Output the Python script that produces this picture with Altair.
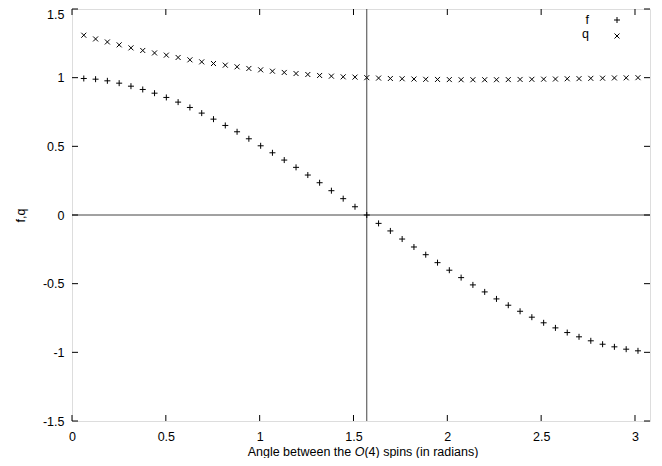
import altair as alt
import pandas as pd

# ---- data ----
angle = [0.0628, 0.1257, 0.1885, 0.2513, 0.3142, 0.3770, 0.4398, 0.5027, 0.5655, 0.6283,
         0.6912, 0.7540, 0.8168, 0.8796, 0.9425, 1.0053, 1.0681, 1.1310, 1.1938, 1.2566,
         1.3195, 1.3823, 1.4451, 1.5080, 1.5708, 1.6336, 1.6965, 1.7593, 1.8221, 1.8850,
         1.9478, 2.0106, 2.0735, 2.1363, 2.1991, 2.2619, 2.3248, 2.3876, 2.4504, 2.5133,
         2.5761, 2.6389, 2.7018, 2.7646, 2.8274, 2.8903, 2.9531, 3.0159]
f_vals = [0.994, 0.989, 0.977, 0.960, 0.938, 0.914, 0.887, 0.856, 0.822, 0.783,
          0.742, 0.698, 0.652, 0.606, 0.555, 0.504, 0.453, 0.400, 0.347, 0.291,
          0.235, 0.177, 0.119, 0.060, 0.000, -0.061, -0.116, -0.175, -0.233, -0.289,
          -0.347, -0.402, -0.456, -0.509, -0.560, -0.611, -0.657, -0.701, -0.744, -0.785,
          -0.822, -0.856, -0.887, -0.916, -0.941, -0.960, -0.977, -0.989]
q_vals = [1.309, 1.282, 1.260, 1.239, 1.217, 1.198, 1.180, 1.164, 1.147, 1.130,
          1.115, 1.103, 1.091, 1.079, 1.067, 1.057, 1.047, 1.038, 1.030, 1.023,
          1.016, 1.011, 1.006, 1.004, 1.000, 0.997, 0.994, 0.992, 0.990, 0.988,
          0.987, 0.986, 0.985, 0.985, 0.985, 0.985, 0.986, 0.987, 0.988, 0.989,
          0.990, 0.992, 0.993, 0.995, 0.996, 0.998, 0.999, 1.000]
x_ticks = [0, 0.5, 1, 1.5, 2, 2.5, 3]
y_ticks = [-1.5, -1, -0.5, 0, 0.5, 1, 1.5]
x_domain = [0, 3.08]
y_domain = [-1.5, 1.5]
vline_x = [1.5708]
hline_y = [0]
series_names = ["f", "q"]
x_title_parts = ["Angle between the", "O", "(4) spins (in radians)"]
y_title = "f,q"

# ---- style ----
W, H = 578, 412
FONT = "Liberation Sans"
FS = 12.5
PLUS = "M-1,0L1,0M0,-1L0,1"
CROSS = "M-1,-1L1,1M-1,1L1,-1"
PSIZE, XSIZE = 36, 25

df = pd.DataFrame({"angle": angle, "f": f_vals, "q": q_vals})
xs = alt.Scale(domain=x_domain, nice=False, zero=False)
ys = alt.Scale(domain=y_domain, nice=False, zero=False)

xaxis = alt.Axis(values=x_ticks, ticks=False, domain=False, grid=False,
                 labelPadding=9, labelFontSize=FS, labelFont=FONT, labelColor="black",
                 labelExpr="'' + datum.value", labelFlush=False, title=None)
yaxis = alt.Axis(values=y_ticks, ticks=False, domain=False, grid=False,
                 labelPadding=8, labelFontSize=FS, labelFont=FONT, labelColor="black",
                 labelExpr="'' + datum.value", labelFlush=False,
                 labelOffset={"condition": {"test": "datum.value == 1.5", "value": 5}, "value": 0},
                 title=y_title, titleFont=FONT, titleFontSize=FS, titleFontWeight="normal",
                 titleColor="black", titleAngle=-90, titleX=-52, titleY=H / 2,
                 titleAlign="center", titleBaseline="middle")

X = lambda f: alt.X(f, scale=xs, axis=xaxis)
Y = lambda f: alt.Y(f, scale=ys, axis=yaxis)

f_layer = alt.Chart(df).mark_point(shape=PLUS, size=PSIZE, filled=False, color="black",
                                   strokeWidth=1, opacity=1).encode(x=X("angle:Q"), y=Y("f:Q"))
q_layer = alt.Chart(df).mark_point(shape=CROSS, size=XSIZE, filled=False, color="black",
                                   strokeWidth=1, opacity=1).encode(x=X("angle:Q"), y=Y("q:Q"))

vline = alt.Chart(pd.DataFrame({"v": vline_x})).mark_rule(color="#444", strokeWidth=1).encode(
    x=X("v:Q"))
hline = alt.Chart(pd.DataFrame({"v": hline_y})).mark_rule(color="#444", strokeWidth=1).encode(
    y=Y("v:Q"))

TL = 6
xt = pd.DataFrame({"t": x_ticks})
yt = pd.DataFrame({"t": y_ticks})
xtick_b = alt.Chart(xt).mark_rule(color="black", strokeWidth=1).encode(
    x=X("t:Q"), y=alt.value(H), y2=alt.value(H - TL))
xtick_t = alt.Chart(xt).mark_rule(color="black", strokeWidth=1).encode(
    x=X("t:Q"), y=alt.value(0), y2=alt.value(TL))
ytick_l = alt.Chart(yt).mark_rule(color="black", strokeWidth=1).encode(
    y=Y("t:Q"), x=alt.value(0), x2=alt.value(TL))
ytick_r = alt.Chart(yt).mark_rule(color="black", strokeWidth=1).encode(
    y=Y("t:Q"), x=alt.value(W), x2=alt.value(W - TL))

# x-axis title with italic O
one = pd.DataFrame({"a": [0]})
TY = H + 31
CX = 291
LEFT_EDGE = CX - 115.3 + 107.0
t_left = alt.Chart(one).mark_text(font=FONT, fontSize=FS, color="black", align="right",
                                  baseline="middle", text=x_title_parts[0]).encode(
    x=alt.value(LEFT_EDGE - 3.5), y=alt.value(TY))
t_mid = alt.Chart(one).mark_text(font=FONT, fontSize=FS, color="black", align="left",
                                 baseline="middle", fontStyle="italic", text=x_title_parts[1]).encode(
    x=alt.value(LEFT_EDGE), y=alt.value(TY))
t_right = alt.Chart(one).mark_text(font=FONT, fontSize=FS, color="black", align="left",
                                   baseline="middle", text=x_title_parts[2]).encode(
    x=alt.value(LEFT_EDGE + 9.7), y=alt.value(TY))

# key (top right): label right-aligned, symbol to its right
LX, SX = 517, 545
key_f_t = alt.Chart(one).mark_text(font=FONT, fontSize=FS, color="black", align="right",
                                   baseline="middle", text=series_names[0]).encode(
    x=alt.value(LX), y=alt.value(11))
key_q_t = alt.Chart(one).mark_text(font=FONT, fontSize=FS, color="black", align="right",
                                   baseline="middle", text=series_names[1]).encode(
    x=alt.value(LX), y=alt.value(25))
key_f_s = alt.Chart(one).mark_point(shape=PLUS, size=PSIZE, filled=False, color="black",
                                    strokeWidth=1, opacity=1).encode(
    x=alt.value(SX), y=alt.value(11))
key_q_s = alt.Chart(one).mark_point(shape=CROSS, size=XSIZE, filled=False, color="black",
                                    strokeWidth=1, opacity=1).encode(
    x=alt.value(SX), y=alt.value(27))

chart = alt.layer(
    vline, hline, xtick_b, xtick_t, ytick_l, ytick_r,
    f_layer, q_layer,
    t_left, t_mid, t_right, key_f_t, key_q_t, key_f_s, key_q_s,
).properties(
    width=W, height=H,
    autosize=alt.AutoSizeParams(type="none"),
    padding={"left": 64, "top": 1, "right": 4, "bottom": 37},
).configure_view(stroke="black", strokeWidth=1).configure(background="white")

chart.save("out.html", embed_options={"renderer": "svg", "actions": False})
